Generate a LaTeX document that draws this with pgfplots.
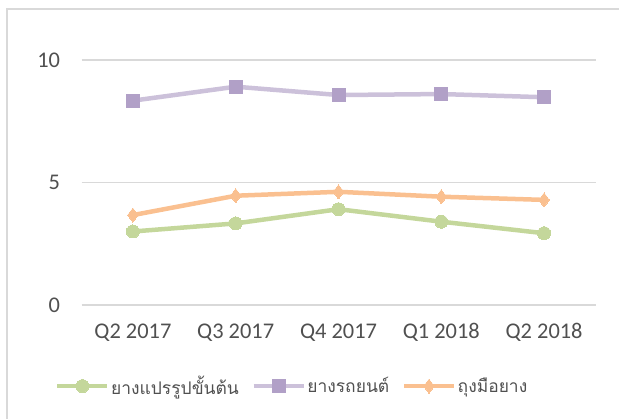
\documentclass[border=0pt]{standalone}
\usepackage{pgfplots}
\pgfplotsset{compat=1.18}
\usepackage{fontspec}
\setmainfont{Carlito}
\newfontfamily\thaifont[Script=Thai]{Loma}
\definecolor{cgreen}{HTML}{C4D79B}
\definecolor{cgreenm}{HTML}{C4D79B}
\definecolor{cpurple}{HTML}{CCC1DA}
\definecolor{cpurplem}{HTML}{B1A0C7}
\definecolor{corange}{HTML}{FAC090}
\definecolor{cgrid}{HTML}{D9D9D9}
\definecolor{ctext}{HTML}{505050}
\begin{document}
\begin{tikzpicture}
\useasboundingbox (0,0) rectangle (619bp,419bp);
\draw[cgrid, line width=1.5bp] (7bp,0) -- (7bp,410bp) -- (619bp,410bp);
\begin{axis}[
  at={(81.5bp,114bp)}, anchor=south west,
  scale only axis, width=514bp, height=245bp,
  xmin=-0.5, xmax=4.5, ymin=0, ymax=10,
  xtick={0,1,2,3,4},
  xticklabels={Q2 2017,Q3 2017,Q4 2017,Q1 2018,Q2 2018},
  ytick={0,5,10},
  axis line style={draw=none},
  axis x line*=bottom,
  tick style={draw=none},
  ymajorgrids, grid style={cgrid, line width=1.2bp},
  /pgf/number format/assume math mode=true,
  tick label style={font=\fontsize{22.5}{26}\selectfont, text=ctext},
  yticklabel style={xshift=-18bp},
  xticklabel style={yshift=-15bp},
  clip=false,
  legend columns=3,
  legend style={at={(0.4095,-0.331)}, anchor=center, draw=none, fill=none,
    font=\thaifont\fontsize{17.5}{22}\selectfont, text=ctext,
    /tikz/every even column/.append style={column sep=11bp},
    nodes={inner sep=1.5bp}},
  legend image code/.code={
    \draw[#1, mark=none] (0bp,0bp) -- (50bp,0bp);
    \draw[#1] plot coordinates {(25bp,0bp)};
  },
]
\addplot[cgreen, line width=4.5bp, mark=*, mark size=6.5bp, mark options={fill=cgreenm, draw=cgreenm, line width=0pt}]
  coordinates {(0,3.00) (1,3.33) (2,3.91) (3,3.40) (4,2.93)};
\addlegendentry{ยางแปรรูปขั้นต้น}
\addplot[cpurple, line width=4.5bp, mark=square*, mark size=6.5bp, mark options={fill=cpurplem, draw=cpurplem, line width=0pt}]
  coordinates {(0,8.34) (1,8.91) (2,8.57) (3,8.61) (4,8.48)};
\addlegendentry{ยางรถยนต์}
\addplot[corange, line width=4.5bp, mark=diamond*, mark size=7bp, mark options={fill=corange, draw=corange, line width=0pt}]
  coordinates {(0,3.67) (1,4.46) (2,4.62) (3,4.42) (4,4.29)};
\addlegendentry{ถุงมือยาง}
\end{axis}
\end{tikzpicture}
\end{document}
